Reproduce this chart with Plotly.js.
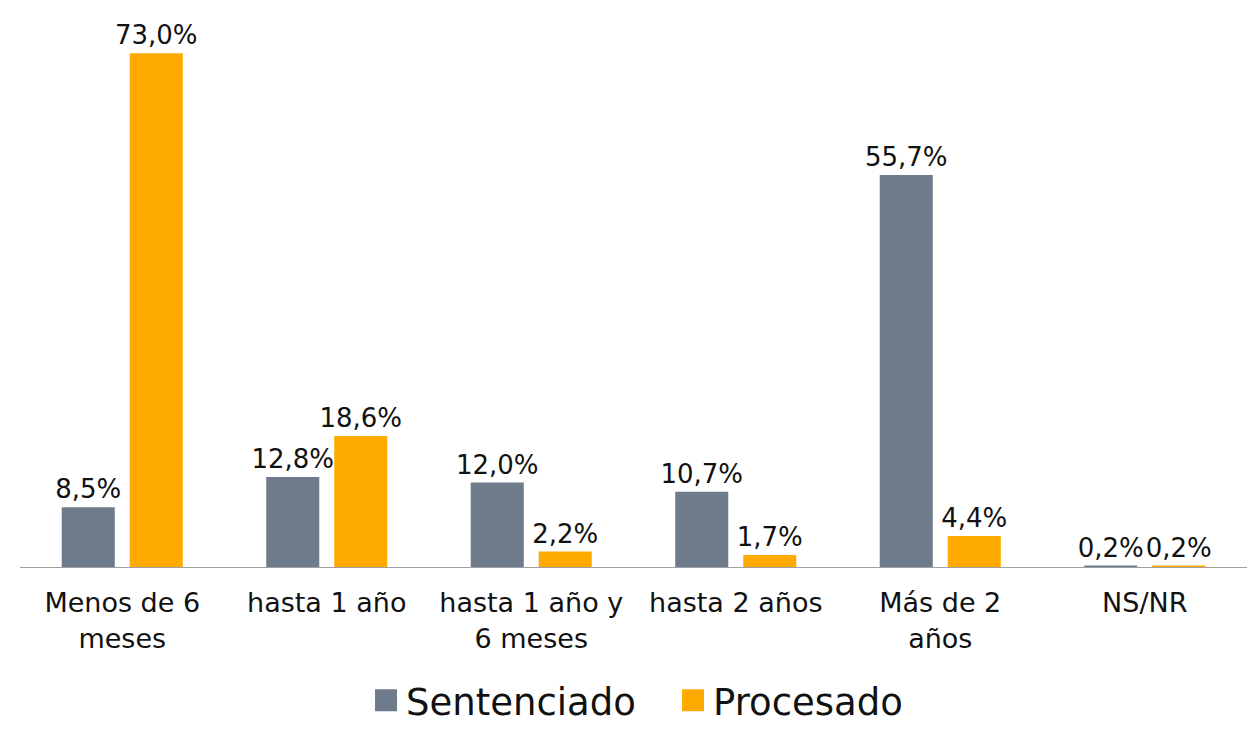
<!DOCTYPE html>
<html><head><meta charset="utf-8">
<script src="https://cdn.plot.ly/plotly-3.0.1.min.js"></script>
<style>html,body{margin:0;padding:0;background:#fff}#c{width:1253px;height:732px}</style>
</head><body><div id="c"></div>
<script>
var categories = ["Menos de 6<br>meses", "hasta 1 año", "hasta 1 año y<br>6 meses", "hasta 2 años", "Más de 2<br>años", "NS/NR"];
var sentenciado = [8.5, 12.8, 12.0, 10.7, 55.7, 0.2];
var procesado = [73.0, 18.6, 2.2, 1.7, 4.4, 0.2];

var FONT = "'DejaVu Sans', sans-serif";
var traces = [
  {type:'bar', name:'Sentenciado', x:categories, y:sentenciado, marker:{color:'#6D7B8A'},
   texttemplate:'%{y:.1f}%', textposition:'outside', cliponaxis:false, constraintext:'none',
   textfont:{size:26, color:'#111', family:FONT}, hoverinfo:'none'},
  {type:'bar', name:'Procesado', x:categories, y:procesado, marker:{color:'#FFAA00'},
   texttemplate:'%{y:.1f}%', textposition:'outside', cliponaxis:false, constraintext:'none',
   textfont:{size:26, color:'#111', family:FONT}, hoverinfo:'none'}
];
var layout = {
  width:1253, height:732,
  margin:{l:20, r:6, t:4, b:165, autoexpand:false},
  separators:',.',
  barmode:'group', bargap:0.335, bargroupgap:0.22,
  paper_bgcolor:'#fff', plot_bgcolor:'#fff',
  font:{family:FONT, color:'#111'},
  xaxis:{showline:true, linecolor:'#A0A0A0', linewidth:1, ticks:'outside', ticklen:12, tickcolor:'rgba(0,0,0,0)',
         tickfont:{size:27, family:FONT, color:'#111'}, automargin:false},
  yaxis:{range:[0,80], visible:false, showgrid:false, zeroline:false},
  showlegend:true,
  legend:{orientation:'h', x:0.282, xanchor:'left', y:-0.2925, yanchor:'bottom', font:{size:37, family:FONT, color:'#111'},
          itemwidth:30, entrywidth:262, entrywidthmode:'pixels'},
  uniformtext:{mode:false}
};
Plotly.newPlot('c', traces, layout, {staticPlot:true}).then(function(){
  document.querySelectorAll('.legendpoints path').forEach(function(p){
    p.setAttribute('d', 'M11,11H-11V-11H11Z');
  });
});
</script></body></html>
